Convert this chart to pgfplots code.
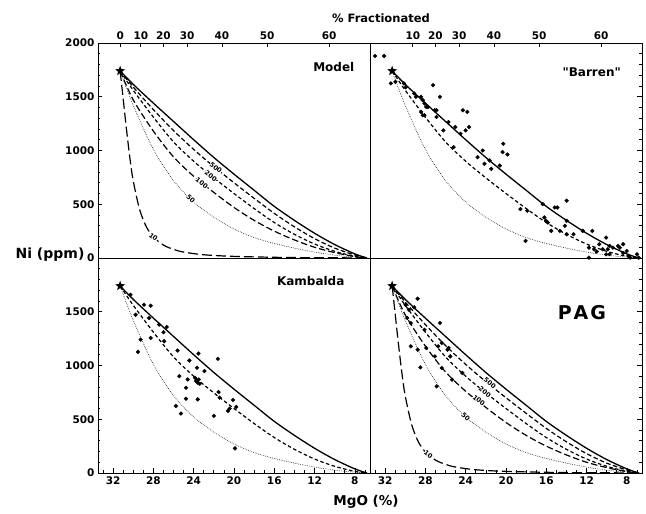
\documentclass[border=0pt]{standalone}
\usepackage{fontspec}
\setmainfont{DejaVu Sans}
\usepackage{pgfplots}
\usepackage{pgfplotstable}
\pgfplotsset{compat=1.18}
\usetikzlibrary{shapes.geometric}

\pgfdeclareplotmark{fstar}{\node[star,star points=5,star point ratio=2.4,fill=black,draw=none,inner sep=0pt,minimum size=10.5pt]{};}

% model curves (Ni ppm vs MgO %)
\pgfplotstableread{
M Ni
31.3 1740
30 1615
28 1440
26 1270
24 1100
22 935
20 780
18 630
16 480
14 350
12 230
10 125
8 38
6.8 0
}\csolid
\pgfplotstableread{
M Ni
31.3 1740
30 1590
28 1380
26 1185
24 1010
22 850
20 700
18 555
16 415
14 290
12 180
10 92
8 28
6.8 0
}\cfive
\pgfplotstableread{
M Ni
31.3 1740
30 1560
28 1310
26 1080
24 900
22 745
20 600
18 460
16 330
14 220
12 130
10 62
8 15
6.8 0
}\ctwo
\pgfplotstableread{
M Ni
31.3 1740
30 1470
28 1180
26 940
24 760
22 610
20 470
18 350
16 250
14 168
12 100
10 50
8 13
6.8 0
}\cone
\pgfplotstableread{
M Ni
31.3 1740
30 1420
28 1010
26 720
24 520
22 380
20 270
18 190
16 135
14 92
12 55
10 26
8 8
6.8 0
}\cfifty
\pgfplotstableread{
M Ni
31.3 1740
31.0 1480
30.7 1220
30.4 980
30.1 770
29.7 580
29.3 430
28.7 290
28.0 195
27.0 120
26.0 80
25.0 55
23.0 30
20.0 15
15.0 5
10.0 2
6.8 0
}\cten

% samples
\pgfplotstableread{
M Ni
33.0 1879
32.1 1879
31.43 1624
30.98 1639
30.13 1624
29.96 1587
29.11 1530
28.94 1499
28.43 1499
28.26 1468
28.09 1437
27.92 1405
27.75 1405
28.43 1359
28.26 1328
28.09 1328
27.24 1608
26.56 1499
27.07 1374
26.9 1374
26.9 1312
26.22 1187
25.71 1265
25.2 1031
25.03 1218
24.52 1156
24.28 1374
23.84 1359
23.67 1218
24.01 1187
22.82 938
22.31 1000
22.14 876
21.63 907
21.46 829
20.61 860
20.27 1063
20.34 985
19.86 963
18.57 455
17.89 439
18.06 159
16.36 502
16.19 377
16.02 346
15.85 330
15.51 252
15.16 470
14.9 470
13.98 533
13.98 346
14.65 252
13.98 221
13.3 221
12.38 252
11.43 252
11.77 96
11.26 81
10.74 128
10.06 190
9.9 81
9.72 35
9.39 96
8.7 96
8.37 47
8.02 65
7.68 3
7.0 35
8.37 128
14.15 299
11.0 60
10.4 81
10.06 34
9.72 112
8.88 112
7.85 19
6.83 3
11.77 3
}\barren
\pgfplotstableread{
M Ni
30.27 1658
28.93 1565
28.27 1556
29.77 1472
28.43 1441
27.43 1380
26.67 1358
27.0 1309
29.27 1241
28.27 1256
26.93 1226
29.53 1127
25.6 1139
23.53 1111
21.6 1062
24.43 1046
23.67 979
22.93 948
25.43 901
24.6 870
23.87 886
23.77 855
23.6 840
23.5 870
23.4 830
24.77 793
21.53 753
24.77 691
23.6 685
21.43 701
20.1 679
20.43 599
19.77 614
25.77 623
25.27 553
22.0 531
20.6 577
19.9 229
}\kambalda
\pgfplotstableread{
M Ni
28.77 1621
29.97 1565
29.63 1519
29.11 1541
29.8 1442
29.45 1395
26.55 1395
28.09 1333
29.45 1178
28.77 1147
27.92 1163
26.73 1178
26.38 1209
25.7 1163
27.06 1085
25.53 1085
28.5 983
26.38 977
24.33 930
25.35 868
26.89 806
25.8 1147
}\pag
\pgfplotstableread{
M Ni
31.3 1740
}\start

\pgfplotsset{
  panel/.style={scale only axis, width=272pt, height=215pt,
    xmin=6.5, xmax=33.5, x dir=reverse, ymin=0, ymax=2000,
    axis line style={line width=0.9pt},
    every tick/.style={black, line width=0.7pt},
    major tick length=4.5pt, minor tick length=2.5pt,
    tick label style={font=\bfseries\fontsize{10.5}{12}\selectfont},
    /pgf/number format/assume math mode=true,
    /pgf/number format/1000 sep={},
    clip mode=individual},
  lefty/.style={ytick pos=left, minor ytick={100,200,...,1900}},
  righty/.style={ytick pos=right, ytick={0,500,...,2000}, yticklabels={},
    minor ytick={100,200,...,1900}},
  fractop/.style={xtick pos=right, xticklabel pos=right},
  mgobot/.style={xtick pos=left, xtick={8,12,...,32}, minor xtick={7,...,33}},
  csol/.style={black, line width=1.3pt, smooth, no marks},
  c500/.style={black, line width=1.2pt, dash pattern=on 4.5pt off 2.5pt, smooth, no marks},
  c200/.style={black, line width=1.2pt, dash pattern=on 3.5pt off 2.5pt, smooth, no marks},
  c100/.style={black, line width=1.2pt, dash pattern=on 6.5pt off 3pt, smooth, no marks},
  c50/.style={black, line width=0.6pt, dash pattern=on 0.6pt off 1.2pt, smooth, no marks},
  c10/.style={black, line width=1.2pt, dash pattern=on 10pt off 4pt, smooth, no marks},
  pts/.style={only marks, mark=*, mark size=1.9pt, black},
  st/.style={only marks, mark=fstar, black},
}
\tikzset{lab/.style={font=\bfseries\fontsize{6.5}{7}\selectfont, fill=white, inner sep=0.2pt},
  pname/.style={font=\bfseries\fontsize{12}{14}\selectfont}}

\begin{document}
\begin{tikzpicture}
\useasboundingbox (0,0) rectangle (646pt,514pt);

% Model
\begin{axis}[panel, lefty, fractop, at={(98pt,256pt)}, anchor=south west,
  ytick={0,500,...,2000},
  xtick={31.3,29.25,27.0,24.65,21.2,16.7,10.55}, xticklabels={0,10,20,30,40,50,60}]
\addplot[csol] table[x=M,y=Ni] {\csolid};
\addplot[c500] table[x=M,y=Ni] {\cfive};
\addplot[c200] table[x=M,y=Ni] {\ctwo};
\addplot[c100] table[x=M,y=Ni] {\cone};
\addplot[c50] table[x=M,y=Ni] {\cfifty};
\addplot[c10] table[x=M,y=Ni] {\cten};
\addplot[st] table[x=M,y=Ni] {\start};
\node[lab,rotate=-39] at (axis cs:21.8,840) {500};
\node[lab,rotate=-39] at (axis cs:22.3,765) {200};
\node[lab,rotate=-39] at (axis cs:23.2,695) {100};
\node[lab,rotate=-44] at (axis cs:24.3,550) {50};
\node[lab,rotate=-38] at (axis cs:28.0,195) {10};
\node[pname] at (rel axis cs:0.867,0.888) {Model};
\end{axis}

% Barren
\begin{axis}[panel, righty, fractop, at={(370pt,256pt)}, anchor=south west,
  xtick={29.25,27.0,24.65,21.2,16.7,10.55}, xticklabels={10,20,30,40,50,60}]
\addplot[csol] table[x=M,y=Ni] {\csolid};
\addplot[c200] table[x=M,y=Ni] {\ctwo};
\addplot[c50] table[x=M,y=Ni] {\cfifty};
\addplot[pts] table[x=M,y=Ni] {\barren};
\addplot[st] table[x=M,y=Ni] {\start};
\node[pname] at (rel axis cs:0.815,0.865) {\textquotedbl Barren\textquotedbl};
\end{axis}

% Kambalda
\begin{axis}[panel, lefty, mgobot, at={(98pt,41pt)}, anchor=south west,
  ytick={0,500,1000,1500}]
\addplot[csol] table[x=M,y=Ni] {\csolid};
\addplot[c200] table[x=M,y=Ni] {\ctwo};
\addplot[c50] table[x=M,y=Ni] {\cfifty};
\addplot[pts] table[x=M,y=Ni] {\kambalda};
\addplot[st] table[x=M,y=Ni] {\start};
\node[pname] at (rel axis cs:0.782,0.893) {Kambalda};
\end{axis}

% PAG
\begin{axis}[panel, righty, mgobot, at={(370pt,41pt)}, anchor=south west]
\addplot[csol] table[x=M,y=Ni] {\csolid};
\addplot[c500] table[x=M,y=Ni] {\cfive};
\addplot[c200] table[x=M,y=Ni] {\ctwo};
\addplot[c100] table[x=M,y=Ni] {\cone};
\addplot[c50] table[x=M,y=Ni] {\cfifty};
\addplot[c10] table[x=M,y=Ni] {\cten};
\addplot[pts] table[x=M,y=Ni] {\pag};
\addplot[st] table[x=M,y=Ni] {\start};
\node[lab,rotate=-39] at (axis cs:21.6,835) {500};
\node[lab,rotate=-39] at (axis cs:22.1,750) {200};
\node[lab,rotate=-39] at (axis cs:22.7,675) {100};
\node[lab,rotate=-44] at (axis cs:24.0,525) {50};
\node[lab,rotate=-38] at (axis cs:27.7,172) {10};
\node[font=\bfseries\fontsize{19}{22}\selectfont] at (rel axis cs:0.779,0.744) {P\kern2pt A\kern2pt G};
\end{axis}

\node[font=\bfseries\fontsize{14}{16}\selectfont] at (50pt,259pt) {Ni (ppm)};
\node[font=\bfseries\fontsize{13.5}{16}\selectfont] at (366pt,12pt) {MgO (\%)};
\node[font=\bfseries\fontsize{11.5}{14}\selectfont] at (381pt,496pt) {\% Fractionated};
\end{tikzpicture}
\end{document}
